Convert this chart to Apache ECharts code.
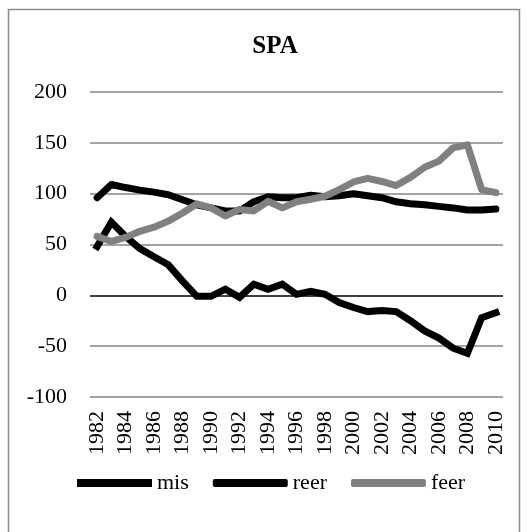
<!DOCTYPE html>
<html>
<head>
<meta charset="utf-8">
<script src="https://cdn.jsdelivr.net/npm/echarts@6/dist/echarts.min.js"></script>
<style>
  html, body { margin: 0; padding: 0; background: #fff; }
  #chart { width: 527px; height: 532px; }
</style>
</head>
<body>
<div id="chart"></div>
<script>
// years on the category axis
const years = ['1982','1983','1984','1985','1986','1987','1988','1989','1990','1991',
  '1992','1993','1994','1995','1996','1997','1998','1999','2000','2001',
  '2002','2003','2004','2005','2006','2007','2008','2009','2010'];

// series
const mis = [48, 72, 58, 46, 38, 30, 14, -1, -1, 6,
  -2, 11, 6, 11, 1, 4, 1, -7, -12, -16,
  -15, -16, -25, -35, -42, -52, -57, -22, -17];
const reer = [96, 109, 106, 103.5, 101.5, 99, 94, 89, 86, 83,
  83, 92, 97, 96, 96, 98.5, 97, 98, 100, 98,
  96, 92, 90, 89, 87.5, 86, 84, 84, 85];
const feer = [58, 53, 57, 63, 67, 73, 81, 90, 86, 78,
  84.5, 83, 92.5, 86, 92, 94.5, 97.5, 104, 111.5, 115,
  112, 108, 116, 126, 132, 145, 148, 104, 101];

const yTicks = [-100, -50, 0, 50, 100, 150, 200];

const font = '"Liberation Serif", "Times New Roman", serif';
const gridGray = '#868686';

const chart = echarts.init(document.getElementById('chart'));
chart.setOption({
  animation: false,
  textStyle: { fontFamily: font },
  title: {
    text: 'SPA',
    left: 270,
    textAlign: 'center',
    top: 29,
    textStyle: { fontFamily: font, fontWeight: 'bold', fontSize: 25, color: '#000' }
  },
  graphic: [{
    type: 'rect',
    shape: { x: 8.5, y: 9.5, width: 511, height: 540 },
    style: { fill: 'none', stroke: '#8a8a8a', lineWidth: 1.5 },
    silent: true
  }],
  legend: {
    left: 72,
    top: 467,
    itemWidth: 75,
    itemHeight: 8,
    itemGap: 24,
    textStyle: { fontFamily: font, fontSize: 22, color: '#000' },
    data: [
      { name: 'mis', icon: 'rect' },
      { name: 'reer', icon: 'roundRect' },
      { name: 'feer', icon: 'roundRect' }
    ]
  },
  grid: { left: 90, right: 24, top: 92, bottom: 135 },
  xAxis: {
    type: 'category',
    data: years,
    boundaryGap: true,
    axisLine: { show: false },
    axisTick: { show: false },
    axisLabel: {
      rotate: 90,
      interval: 1,
      margin: 14,
      fontSize: 22,
      color: '#000',
      fontFamily: font
    }
  },
  yAxis: {
    type: 'value',
    min: yTicks[0],
    max: yTicks[yTicks.length - 1],
    interval: 50,
    axisLine: { show: false },
    axisTick: { show: false },
    axisLabel: { margin: 23, fontSize: 22, color: '#000', fontFamily: font },
    splitLine: {
      lineStyle: {
        width: 1.5,
        color: yTicks.map(v => v === 0 ? '#000' : gridGray)
      }
    }
  },
  series: [
    {
      name: 'mis', type: 'line', data: mis, symbol: 'none',
      itemStyle: { color: '#000' },
      lineStyle: { color: '#000', width: 7, cap: 'square', join: 'miter' }
    },
    {
      name: 'reer', type: 'line', data: reer, symbol: 'none',
      itemStyle: { color: '#000' },
      lineStyle: { color: '#000', width: 7, cap: 'round', join: 'round' }
    },
    {
      name: 'feer', type: 'line', data: feer, symbol: 'none',
      itemStyle: { color: '#808080' },
      lineStyle: { color: '#808080', width: 7, cap: 'round', join: 'round' }
    }
  ]
});
</script>
</body>
</html>
